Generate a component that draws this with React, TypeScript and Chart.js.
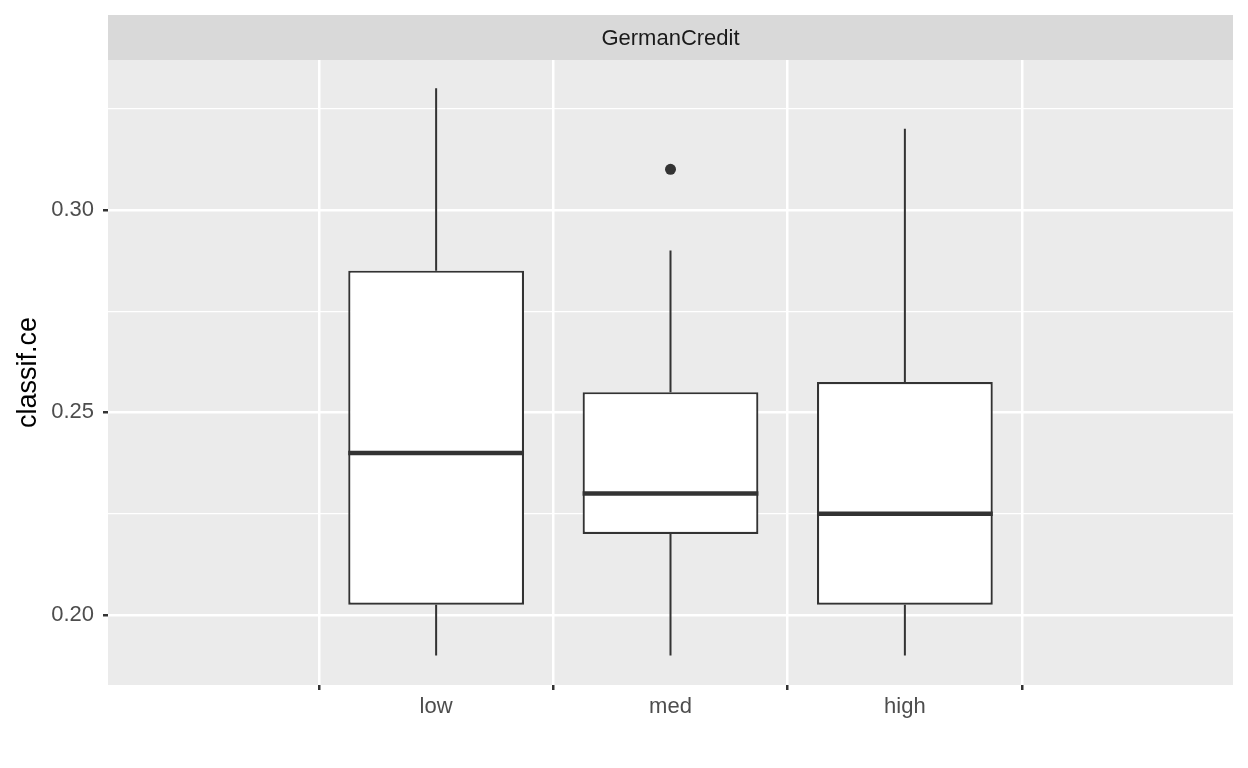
import React, { useEffect, useRef } from "react";
import { Chart, registerables } from "chart.js";
Chart.register(...registerables);

const categories = ["low", "med", "high"];
const q1 = [0.2025, 0.22, 0.2025];
const q3 = [0.285, 0.255, 0.2575];
const medians = [0.24, 0.23, 0.225];
const whiskerLow = [0.19, 0.19, 0.19];
const whiskerHigh = [0.33, 0.29, 0.32];
const outliers = [{ cat: "med", value: 0.31 }];
const majorTicks = [0.2, 0.25, 0.3];
const stripTitle = "GermanCredit";

const isMajor = (v: number) => majorTicks.some((m) => Math.abs(m - v) < 1e-6);
const FONT = "'Liberation Sans', Arial, sans-serif";

export default function App() {
  const ref = useRef<HTMLCanvasElement>(null);
  useEffect(() => {
    document.body.style.margin = "0";
    const boxPlugin = {
      id: "boxExtras",
      beforeDraw(chart: any) {
        const { ctx, chartArea: a } = chart;
        ctx.save();
        ctx.fillStyle = "#EBEBEB";
        ctx.fillRect(a.left, a.top, a.right - a.left, a.bottom - a.top);
        ctx.fillStyle = "#D9D9D9";
        ctx.fillRect(a.left, 15, a.right - a.left, a.top - 15);
        ctx.fillStyle = "#1a1a1a";
        ctx.font = "22px " + FONT;
        ctx.textAlign = "center";
        ctx.textBaseline = "middle";
        ctx.fillText(stripTitle, (a.left + a.right) / 2, (15 + a.top) / 2 + 1);
        ctx.restore();
      },
      beforeDatasetsDraw(chart: any) {
        const { ctx } = chart;
        const x = chart.scales.x, y = chart.scales.y;
        ctx.save();
        ctx.strokeStyle = "#333333";
        ctx.lineWidth = 2;
        categories.forEach((c, i) => {
          const px = x.getPixelForValue(i);
          ctx.beginPath();
          ctx.moveTo(px, y.getPixelForValue(whiskerHigh[i]));
          ctx.lineTo(px, y.getPixelForValue(q3[i]));
          ctx.moveTo(px, y.getPixelForValue(q1[i]));
          ctx.lineTo(px, y.getPixelForValue(whiskerLow[i]));
          ctx.stroke();
        });
        ctx.restore();
      },
      afterDatasetsDraw(chart: any) {
        const { ctx } = chart;
        const x = chart.scales.x, y = chart.scales.y;
        const meta = chart.getDatasetMeta(0);
        ctx.save();
        ctx.strokeStyle = "#333333";
        ctx.lineWidth = 4.5;
        categories.forEach((c, i) => {
          const bar = meta.data[i];
          const w = bar.width;
          const py = y.getPixelForValue(medians[i]);
          ctx.beginPath();
          ctx.moveTo(bar.x - w / 2, py);
          ctx.lineTo(bar.x + w / 2, py);
          ctx.stroke();
        });
        ctx.fillStyle = "#333333";
        outliers.forEach((o) => {
          const px = x.getPixelForValue(categories.indexOf(o.cat));
          ctx.beginPath();
          ctx.arc(px, y.getPixelForValue(o.value), 5.5, 0, Math.PI * 2);
          ctx.fill();
        });
        ctx.restore();
      },
    };
    const chart = new Chart(ref.current!, {
      type: "bar",
      data: {
        datasets: [
          {
            data: categories.map((_, i) => ({ x: i, y: [q1[i], q3[i]] })) as any,
            backgroundColor: "#FFFFFF",
            borderColor: "#333333",
            borderWidth: 2.2,
            borderSkipped: false,
            categoryPercentage: 1,
            barPercentage: 0.75,
          },
        ],
      },
      options: {
        animation: false,
        responsive: false,
        layout: { padding: { left: 0, top: 60, right: 15, bottom: 0 } },
        plugins: { legend: { display: false }, tooltip: { enabled: false } },
        scales: {
          x: {
            type: "linear",
            min: -0.6,
            max: 2.6,
            afterBuildTicks: (s: any) => {
              s.ticks = categories.map((_, i) => ({ value: i }));
            },
            grid: {
              color: "#FFFFFF",
              lineWidth: 2.5,
              tickColor: "#333333",
              tickLength: 5,
            },
            border: { display: false },
            ticks: {
              color: "#4d4d4d",
              font: { size: 22, family: FONT },
              padding: 4,
              callback: (v: any) => categories[Math.round(Number(v))] ?? "",
            },
            afterFit: (s: any) => { s.height = 83; },
          },
          y: {
            min: 0.1827,
            max: 0.337,
            afterBuildTicks: (s: any) => {
              s.ticks = [0.2, 0.225, 0.25, 0.275, 0.3, 0.325].map((v) => ({ value: v }));
            },
            grid: {
              color: "#FFFFFF",
              lineWidth: (c: any) => (isMajor(c.tick?.value) ? 2.5 : 1.2),
              tickColor: (c: any) => (isMajor(c.tick?.value) ? "#333333" : "rgba(0,0,0,0)"),
              tickLength: 5,
            },
            border: { display: false },
            ticks: {
              color: "#4d4d4d",
              font: { size: 22, family: FONT },
              padding: 9,
              callback: (v: any) => (isMajor(Number(v)) ? Number(v).toFixed(2) : ""),
            },
            title: {
              display: true,
              text: "classif.ce",
              color: "#000000",
              font: { size: 27, family: FONT },
              padding: { top: 12, bottom: 10 },
            },
            afterFit: (s: any) => { s.width = 108; },
          },
        },
      },
      plugins: [boxPlugin],
    });
    return () => chart.destroy();
  }, []);
  return <canvas ref={ref} width={1248} height={768} style={{ display: "block" }} />;
}
